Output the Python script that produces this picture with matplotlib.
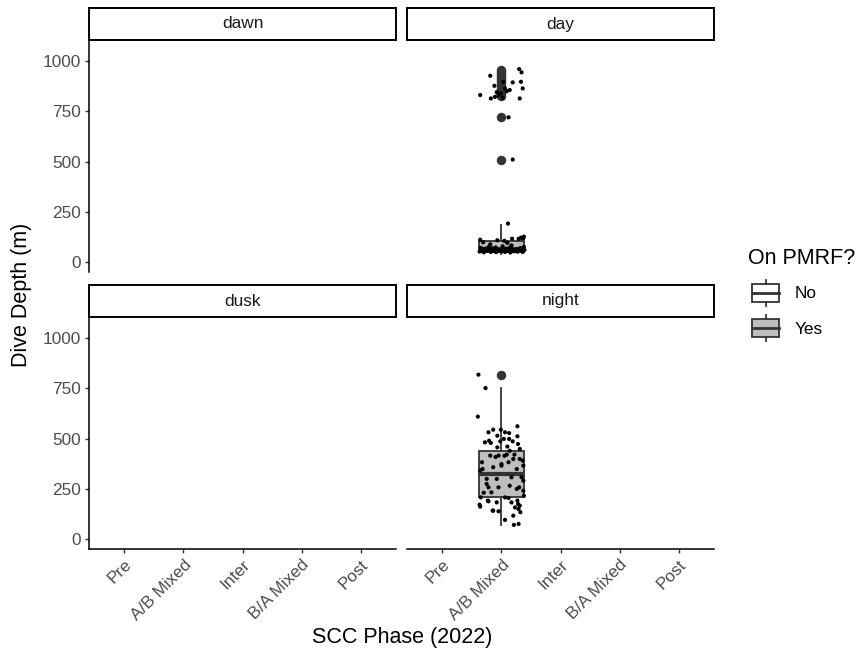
import matplotlib
matplotlib.use("Agg")
import matplotlib.pyplot as plt
from matplotlib.patches import Rectangle
from matplotlib.lines import Line2D

plt.rcParams['font.family'] = ['Liberation Sans', 'DejaVu Sans']

# ---------------- data ----------------
phases = ["Pre", "A/B Mixed", "Inter", "B/A Mixed", "Post"]
periods = ["dawn", "day", "dusk", "night"]
yticks = [0, 250, 500, 750, 1000]
legend_title = "On PMRF?"
legend_labels = ["No", "Yes"]

box_phase = "A/B Mixed"

day_box = dict(q1=52, med=65, q3=103, whislo=42, whishi=182)
day_outliers = [510, 720, 825, 835, 845, 855, 865, 875, 885, 895, 905, 915,
                925, 935, 945, 955]
night_box = dict(q1=210, med=323, q3=438, whislo=70, whishi=751)
night_outliers = [815]

# jittered raw dives (offset from category centre, depth)
day_dx = [-0.37, -0.33, -0.30, -0.27, -0.24, -0.21, -0.18, -0.15, -0.12, -0.09,
          -0.06, -0.03, 0.00, 0.03, 0.06, 0.09, 0.12, 0.15, 0.18, 0.21,
          0.24, 0.27, 0.30, 0.33, 0.36, 0.39, -0.35, -0.28, -0.22, -0.16,
          -0.10, -0.04, 0.02, 0.08, 0.14, 0.20, 0.26, 0.32, 0.38, -0.31,
          -0.19, -0.07, 0.05, 0.17, 0.29, 0.37, 0.11, 0.33, 0.38, -0.36,
          0.10, 0.35, 0.18,
          -0.19, 0.30, 0.34, -0.12, 0.03, 0.19, 0.33, 0.36, -0.36, -0.18,
          -0.11, -0.05, 0.06, 0.14, 0.31, -0.01, 0.12, 0.19, -0.08, 0.02, 0.09]
day_y = [52, 60, 48, 66, 55, 58, 50, 63, 54, 49,
         61, 57, 52, 65, 50, 59, 55, 47, 62, 53,
         58, 51, 64, 56, 50, 60, 70, 57, 74, 68,
         72, 56, 78, 66, 71, 58, 62, 69, 75, 98,
         88, 108, 105, 82, 115, 118, 191, 121, 126, 111,
         95, 118, 116,
         927, 960, 944, 877, 897, 894, 897, 864, 831, 814,
         822, 831, 864, 856, 814, 839, 720, 510, 845, 818, 850]

night_dx = [-0.39, -0.27, -0.40, 0.27, -0.14, -0.22, -0.01, 0.06, 0.13, -0.07,
            0.04, 0.13, 0.27, -0.28, -0.21, -0.18, -0.07, 0.14, 0.31, -0.19,
            -0.05, 0.09, 0.20, 0.31, -0.32, -0.14, 0.00, 0.12, 0.26, 0.37,
            -0.25, -0.08, 0.17, 0.34, -0.22, -0.05, 0.14, 0.26, 0.37, -0.17,
            -0.36, -0.37, -0.36, -0.22, -0.14, -0.05, 0.12, 0.27, 0.31, 0.29,
            0.32, 0.06, 0.21, 0.29, 0.28, -0.35, -0.23, -0.08, 0.06, 0.17,
            0.23, 0.28, -0.15, 0.20, 0.37, -0.25, 0.36, 0.00, -0.10, 0.05,
            0.22, -0.33, 0.30, -0.02, 0.19, 0.10, 0.38, -0.30]
night_y = [818, 751, 609, 561, 544, 531, 544, 531, 527, 514,
           498, 498, 511, 481, 489, 478, 456, 439, 448, 415,
           415, 420, 398, 398, 348, 357, 365, 382, 348, 365,
           299, 299, 307, 307, 257, 257, 265, 249, 240, 232,
           340, 171, 161, 187, 141, 138, 204, 191, 166, 149,
           133, 95, 70, 75, 473, 207, 191, 182, 207, 182,
           157, 174, 141, 116, 290, 274, 390, 373, 408, 414,
           420, 382, 257, 486, 486, 460, 215, 230]

panel_data = {
    "day": (day_box, day_outliers, day_dx, day_y),
    "night": (night_box, night_outliers, night_dx, night_y),
}

# ---------------- style ----------------
W, H = 863, 661
BOX_FILL = "#BEBEBE"
EDGE = "#333333"
TICK_COL = "#4D4D4D"
FS_TICK = 12.4
FS_TITLE = 15.5

fig = plt.figure(figsize=(W / 100, H / 100), dpi=100)


def fig_rect(x0, y0, x1, y1):
    return [x0 / W, 1 - y1 / H, (x1 - x0) / W, (y1 - y0) / H]


cols = [(89, 396), (407, 714)]
rows = [(40, 272, 8), (317, 549, 285)]

for i, period in enumerate(periods):
    r, c = divmod(i, 2)
    x0, x1 = cols[c]
    py0, py1, sy0 = rows[r]
    ax = fig.add_axes(fig_rect(x0, py0, x1, py1))

    if period in panel_data:
        stats, outl, dx, yy = panel_data[period]
        pos = phases.index(box_phase)
        st = dict(stats)
        st["fliers"] = outl
        ax.bxp([st], positions=[pos], widths=0.75, patch_artist=True,
               showcaps=False, manage_ticks=False,
               boxprops=dict(facecolor=BOX_FILL, edgecolor=EDGE, linewidth=1.3),
               medianprops=dict(color=EDGE, linewidth=3.0),
               whiskerprops=dict(color=EDGE, linewidth=1.3),
               flierprops=dict(marker="o", markersize=6.8, markerfacecolor=EDGE,
                               markeredgecolor="none"),
               zorder=2)
        ax.scatter([pos + d for d in dx], yy, s=9, color="black",
                   edgecolors="none", zorder=3)

    ax.set_xlim(-0.6, 4.6)
    ax.set_ylim(-50, 1105)
    for s in ["top", "right"]:
        ax.spines[s].set_visible(False)
    ax.spines["left"].set_visible(c == 0)
    ax.spines["bottom"].set_visible(r == 1)
    for s in ["left", "bottom"]:
        ax.spines[s].set_linewidth(1.1)
        ax.spines[s].set_color("black")
    ax.set_xticks(range(len(phases)))
    ax.set_yticks(yticks)
    ax.tick_params(axis="both", length=3.2, width=1.0, color="#333333",
                   labelsize=FS_TICK, labelcolor=TICK_COL, pad=2.5)
    if c == 0:
        ax.set_yticklabels([str(v) for v in yticks])
    else:
        ax.tick_params(axis="y", left=False, labelleft=False)
    if r == 1:
        ax.set_xticklabels(phases, rotation=45, ha="right", va="top",
                           rotation_mode="anchor")
    else:
        ax.tick_params(axis="x", bottom=False, labelbottom=False)
    ax.patch.set_visible(False)

    # strip
    sax = fig.add_axes(fig_rect(x0, sy0, x1, py0))
    sax.set_xticks([])
    sax.set_yticks([])
    for s in sax.spines.values():
        s.set_linewidth(1.4)
        s.set_color("black")
    sax.text(0.5, 0.5, period, ha="center", va="center", fontsize=FS_TICK,
             color="#1A1A1A", transform=sax.transAxes)

# axis titles
fig.text(22 / W, 1 - 295 / H, "Dive Depth (m)", rotation=90, ha="center",
         va="center", fontsize=FS_TITLE, color="black")
fig.text(402 / W, 1 - 637 / H, "SCC Phase (2022)", ha="center", va="center",
         fontsize=FS_TITLE, color="black")

# legend (drawn in pixel coordinates on an overlay)
lax = fig.add_axes([0, 0, 1, 1])
lax.set_xlim(0, W)
lax.set_ylim(H, 0)
lax.axis("off")
lax.text(748, 258, legend_title, ha="left", va="center", fontsize=FS_TITLE,
         color="black")
fills = ["white", BOX_FILL]
for k, (lab, fc) in enumerate(zip(legend_labels, fills)):
    cy = 293 + 35 * k
    lax.add_patch(Rectangle((752, cy - 9), 27, 18, facecolor=fc,
                            edgecolor=EDGE, linewidth=1.3))
    lax.add_line(Line2D([765.5, 765.5], [cy - 13, cy - 9], color=EDGE, lw=1.3))
    lax.add_line(Line2D([765.5, 765.5], [cy + 9, cy + 13], color=EDGE, lw=1.3))
    lax.add_line(Line2D([752, 779], [cy, cy], color=EDGE, lw=2.0))
    lax.text(795, cy + 1, lab, ha="left", va="center", fontsize=FS_TICK,
             color="black")

fig.savefig("out.png", dpi=100)
